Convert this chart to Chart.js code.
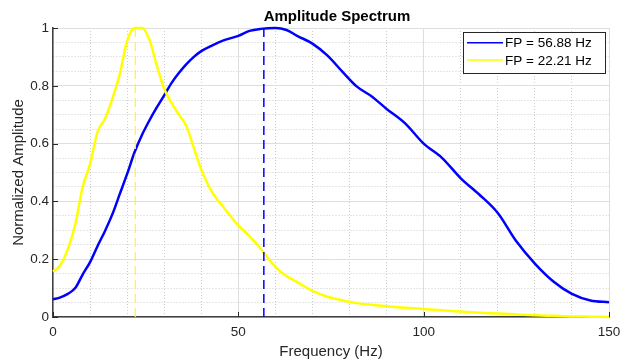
<!DOCTYPE html>
<html>
<head>
<meta charset="utf-8">
<title>Amplitude Spectrum</title>
<script src="https://cdn.jsdelivr.net/npm/chart.js@4.4.1/dist/chart.umd.min.js"></script>
<style>
  html, body { margin: 0; padding: 0; background: #fff; }
  #wrap { width: 628px; height: 364px; }
</style>
</head>
<body>
<div id="wrap"><canvas id="spectrum" width="628" height="364"></canvas></div>
<script>
// frequency axis (Hz), shared by both spectra
const freq = [0, 2, 4, 6, 8, 10, 12, 14, 16, 18, 20, 22, 24, 26, 28, 30, 32, 34, 36, 38, 40,
              43, 46, 50, 53, 56, 60, 63, 66, 70, 74, 78, 82, 86, 90, 95, 100, 105, 110,
              115, 120, 125, 130, 135, 140, 145, 150];

// normalized amplitude, first signal (blue)
const ampBlue = [0.061, 0.068, 0.08, 0.10, 0.147, 0.19, 0.245, 0.297, 0.355, 0.425, 0.495,
                 0.57, 0.63, 0.68, 0.725, 0.767, 0.81, 0.845, 0.875, 0.90, 0.92,
                 0.94, 0.957, 0.973, 0.99, 0.997, 1.0, 0.993, 0.972, 0.946, 0.905, 0.85,
                 0.797, 0.763, 0.72, 0.67, 0.60, 0.55, 0.48, 0.424, 0.36, 0.262, 0.185,
                 0.123, 0.08, 0.057, 0.051];

// normalized amplitude, second signal (yellow)
const ampYellow = [0.157, 0.18, 0.235, 0.32, 0.45, 0.53, 0.64, 0.685, 0.755, 0.84, 0.955,
                   1.0, 1.0, 0.96, 0.87, 0.79, 0.74, 0.70, 0.66, 0.585, 0.51,
                   0.43, 0.38, 0.317, 0.28, 0.237, 0.173, 0.142, 0.12, 0.09, 0.07, 0.058,
                   0.048, 0.042, 0.037, 0.032, 0.028, 0.023, 0.019, 0.015, 0.012, 0.009,
                   0.006, 0.004, 0.002, 0.001, 0.0];

// peak frequencies (Hz) marked with dashed lines
const peakFreq = [56.88, 22.21];

// tick labels
const xTicks = [0, 50, 100, 150];
const yTicks = [0, 0.2, 0.4, 0.6, 0.8, 1];

const FONT = "'Liberation Sans', Arial, Helvetica, sans-serif";
const AXIS_DARK = '#262626';

function toPoints(xs, ys) {
    return xs.map((x, i) => ({ x: x, y: ys[i] }));
}

function isMajor(list, v) {
    return list.some(t => Math.abs(t - v) < 1e-9);
}

// MATLAB-like title over the axes
const titlePlugin = {
    id: 'topTitle',
    afterDraw(chart) {
        const { ctx, chartArea } = chart;
        ctx.save();
        ctx.font = 'bold 15px ' + FONT;
        ctx.fillStyle = '#000';
        ctx.textAlign = 'center';
        ctx.textBaseline = 'alphabetic';
        ctx.fillText('Amplitude Spectrum', (chartArea.left + chartArea.right) / 2 + 6, 21);
        ctx.restore();
    }
};

// inward major tick marks on left and bottom axes
const innerTicksPlugin = {
    id: 'innerTicks',
    afterDatasetsDraw(chart) {
        const { ctx, chartArea, scales } = chart;
        ctx.save();
        ctx.strokeStyle = AXIS_DARK;
        ctx.lineWidth = 1;
        ctx.beginPath();
        xTicks.forEach(v => {
            const px = Math.round(scales.x.getPixelForValue(v)) + 0.5;
            ctx.moveTo(px, chartArea.bottom);
            ctx.lineTo(px, chartArea.bottom - 5);
        });
        yTicks.forEach(v => {
            const py = Math.round(scales.y.getPixelForValue(v)) + 0.5;
            ctx.moveTo(chartArea.left, py);
            ctx.lineTo(chartArea.left + 5, py);
        });
        ctx.stroke();
        ctx.restore();
    }
};

// boxed legend in the top right corner of the axes
const legendPlugin = {
    id: 'boxLegend',
    afterDatasetsDraw(chart) {
        const { ctx, chartArea } = chart;
        const items = chart.data.datasets.filter(d => d.inLegend);
        const w = 142, h = 41, rowH = 17.3;
        const x0 = Math.round(chartArea.right - 4 - w);
        const y0 = Math.round(chartArea.top + 4);
        ctx.save();
        ctx.fillStyle = '#fff';
        ctx.fillRect(x0, y0, w, h);
        ctx.strokeStyle = AXIS_DARK;
        ctx.lineWidth = 1;
        ctx.strokeRect(x0 + 0.5, y0 + 0.5, w, h);
        ctx.font = '13.5px ' + FONT;
        ctx.textAlign = 'left';
        ctx.textBaseline = 'middle';
        items.forEach((d, i) => {
            const cy = y0 + 10.7 + i * rowH;
            ctx.strokeStyle = d.borderColor;
            ctx.lineWidth = 1.5;
            ctx.beginPath();
            ctx.moveTo(x0 + 4, cy);
            ctx.lineTo(x0 + 40, cy);
            ctx.stroke();
            ctx.fillStyle = '#000';
            ctx.fillText(d.label, x0 + 42, cy + 1);
        });
        ctx.restore();
    }
};

const ctx = document.getElementById('spectrum');

new Chart(ctx, {
    type: 'line',
    data: {
        datasets: [
            {
                label: 'FP = ' + peakFreq[0].toFixed(2) + ' Hz',
                inLegend: true,
                data: toPoints(freq, ampBlue),
                borderColor: '#0000ff',
                borderWidth: 2.5,
                pointRadius: 0,
                cubicInterpolationMode: 'monotone',
                clip: 3,
                order: 3
            },
            {
                label: 'FP = ' + peakFreq[1].toFixed(2) + ' Hz',
                inLegend: true,
                data: toPoints(freq, ampYellow),
                borderColor: '#ffff00',
                borderWidth: 2.5,
                pointRadius: 0,
                cubicInterpolationMode: 'monotone',
                clip: 3,
                order: 2
            },
            {
                label: 'peak 1',
                data: [{ x: peakFreq[0], y: 0 }, { x: peakFreq[0], y: 1 }],
                borderColor: '#0000ff',
                borderWidth: 1.5,
                borderDash: [9, 5],
                pointRadius: 0,
                order: 1
            },
            {
                label: 'peak 2',
                data: [{ x: peakFreq[1], y: 0 }, { x: peakFreq[1], y: 1 }],
                borderColor: '#ffff00',
                borderWidth: 1.2,
                borderDash: [9, 5],
                pointRadius: 0,
                order: 0
            }
        ]
    },
    options: {
        responsive: false,
        animation: false,
        devicePixelRatio: 1,
        layout: { padding: { top: 28, right: 19, left: 0, bottom: 0 } },
        plugins: {
            legend: { display: false },
            tooltip: { enabled: false },
            title: { display: false }
        },
        scales: {
            x: {
                type: 'linear',
                min: 0,
                max: 150,
                afterFit(scale) { scale.height = 47; },
                afterBuildTicks(scale) {
                    const t = [];
                    for (let v = 0; v <= 150; v += 10) t.push({ value: v });
                    scale.ticks = t;
                },
                ticks: {
                    autoSkip: false,
                    maxRotation: 0,
                    padding: 7,
                    color: AXIS_DARK,
                    font: { family: FONT, size: 13.5 },
                    callback: v => isMajor(xTicks, v) ? String(v) : ''
                },
                grid: {
                    drawTicks: false,
                    lineWidth: 1,
                    color: c => (c.tick && isMajor(xTicks, c.tick.value)) ? '#dedede' : '#cccccc'
                },
                border: {
                    display: true,
                    color: '#404040',
                    width: 1.5,
                    dash: c => (c.tick && !isMajor(xTicks, c.tick.value)) ? [1, 2] : []
                },
                title: {
                    display: true,
                    text: 'Frequency (Hz)',
                    color: AXIS_DARK,
                    font: { family: FONT, size: 15 },
                    padding: { top: 0, bottom: 3 }
                }
            },
            y: {
                type: 'linear',
                min: 0,
                max: 1,
                afterFit(scale) { scale.width = 53; },
                afterBuildTicks(scale) {
                    const t = [];
                    for (let i = 0; i <= 20; i++) t.push({ value: i / 20 });
                    scale.ticks = t;
                },
                ticks: {
                    autoSkip: false,
                    padding: 4,
                    color: AXIS_DARK,
                    font: { family: FONT, size: 13.5 },
                    callback: v => isMajor(yTicks, v) ? String(Math.round(v * 10) / 10) : ''
                },
                grid: {
                    drawTicks: false,
                    lineWidth: 1,
                    color: c => (c.tick && isMajor(yTicks, c.tick.value)) ? '#dedede' : '#cccccc'
                },
                border: {
                    display: true,
                    color: '#404040',
                    width: 1.5,
                    dash: c => (c.tick && !isMajor(yTicks, c.tick.value)) ? [1, 2] : []
                },
                title: {
                    display: true,
                    text: 'Normalized Amplitude',
                    color: AXIS_DARK,
                    font: { family: FONT, size: 15 },
                    padding: { top: 9.5, bottom: 0 }
                }
            }
        }
    },
    plugins: [titlePlugin, innerTicksPlugin, legendPlugin]
});
</script>
</body>
</html>
